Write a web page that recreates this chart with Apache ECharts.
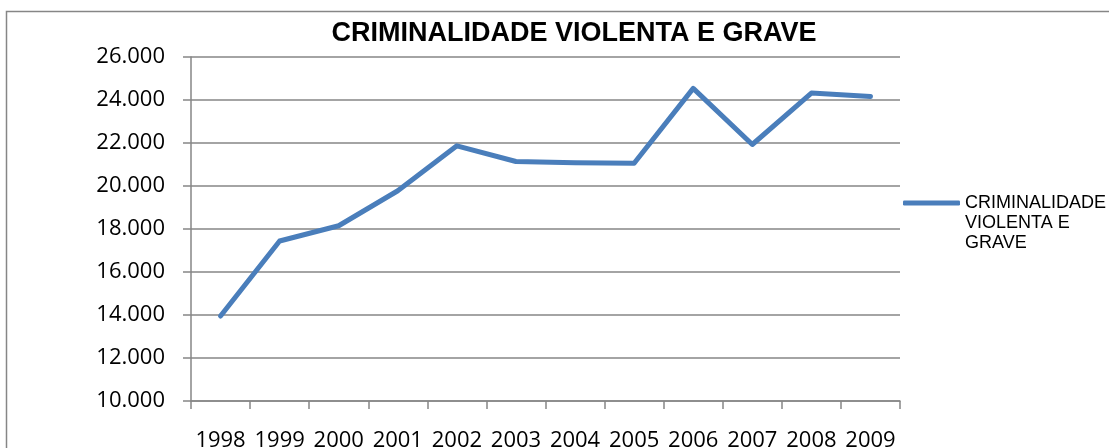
<!DOCTYPE html>
<html>
<head>
<meta charset="utf-8">
<script src="https://cdn.jsdelivr.net/npm/echarts@6/dist/echarts.min.js"></script>
<style>
  html, body { margin: 0; padding: 0; background: #fff; }
  #chart { width: 1109px; height: 448px; }
</style>
</head>
<body>
<div id="chart"></div>
<script>
const seriesName = 'CRIMINALIDADE VIOLENTA E GRAVE'
const years = ['1998', '1999', '2000', '2001', '2002', '2003', '2004', '2005', '2006', '2007', '2008', '2009']
const crimes = [13950, 17440, 18150, 19780, 21870, 21140, 21080, 21060, 24540, 21930, 24320, 24160]
const yTicks = { min: 10000, max: 26000, step: 2000 }

function thousands(v) {
  return String(v).replace(/\B(?=(\d{3})+(?!\d))/g, '.')
}

const chart = echarts.init(document.getElementById('chart'))
chart.setOption({
  animation: false,
  backgroundColor: '#fff',
  title: {
    text: seriesName,
    left: 569,
    top: 15,
    textAlign: 'center',
    textStyle: {
      fontFamily: 'Liberation Sans, Arial, sans-serif',
      fontWeight: 'bold',
      fontSize: 27,
      color: '#000'
    }
  },
  graphic: [{
    type: 'rect',
    silent: true,
    shape: { x: 6.5, y: 11.5, width: 1200, height: 600 },
    style: { fill: 'none', stroke: '#868686', lineWidth: 1.5 }
  }],
  legend: {
    left: 903,
    top: 153,
    padding: 0,
    itemWidth: 57,
    itemHeight: 5,
    itemGap: 0,
    icon: 'roundRect',
    // blank lines first so the first text line sits level with the line icon
    formatter: () => '\n\nCRIMINALIDADE\nVIOLENTA E\nGRAVE',
    textStyle: {
      fontFamily: 'Liberation Sans, Arial, sans-serif',
      fontSize: 18,
      lineHeight: 20,
      color: '#000'
    }
  },
  grid: {
    left: 191,
    right: 209,
    top: 57,
    bottom: 47,
    containLabel: false,
    outerBoundsMode: 'none'
  },
  xAxis: {
    type: 'category',
    data: years,
    boundaryGap: true,
    axisLine: { lineStyle: { color: '#868686', width: 1.5 } },
    axisTick: { show: true, length: 8, lineStyle: { color: '#868686', width: 1.5 } },
    axisLabel: {
      margin: 29,
      interval: 0,
      fontFamily: 'Open Sans, sans-serif',
      fontSize: 22,
      color: '#000'
    }
  },
  yAxis: {
    type: 'value',
    min: yTicks.min,
    max: yTicks.max,
    interval: yTicks.step,
    axisLine: { show: true, lineStyle: { color: '#868686', width: 1.5 } },
    axisTick: { show: true, length: 8, lineStyle: { color: '#868686', width: 1.5 } },
    splitLine: { lineStyle: { color: '#868686', width: 1.5 } },
    axisLabel: {
      margin: 26,
      formatter: thousands,
      fontFamily: 'Open Sans, sans-serif',
      fontSize: 22,
      color: '#000'
    }
  },
  series: [{
    name: seriesName,
    type: 'line',
    data: crimes,
    symbol: 'none',
    lineStyle: { color: '#4a7ebb', width: 5, cap: 'round', join: 'round' },
    itemStyle: { color: '#4a7ebb' }
  }]
})
</script>
</body>
</html>
